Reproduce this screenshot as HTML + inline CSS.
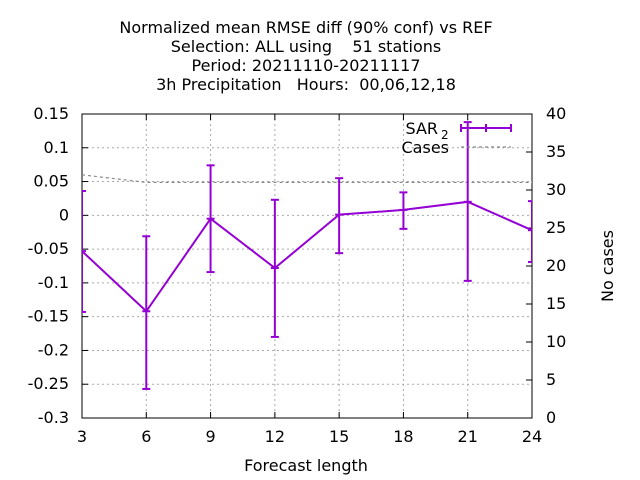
<!DOCTYPE html>
<html><head><meta charset="utf-8"><style>
body{margin:0;background:#fff;}
svg{display:block;font-family:"DejaVu Sans","Liberation Sans",sans-serif;}
text{white-space:pre;}
</style></head><body>
<svg id="chart" width="640" height="480" viewBox="0 0 640 480">
<defs><clipPath id="pc"><rect x="82" y="100" width="450" height="330"/></clipPath></defs>
<g font-size="16" text-anchor="middle" fill="#000">
<text x="306" y="33" xml:space="preserve">Normalized mean RMSE diff (90% conf) vs REF</text>
<text x="306" y="52" xml:space="preserve">Selection: ALL using    51 stations</text>
<text x="306" y="71" xml:space="preserve">Period: 20211110-20211117</text>
<text x="306" y="90" xml:space="preserve">3h Precipitation   Hours:  00,06,12,18</text>
</g>
<g id="grid"></g>
<g id="axes"></g>
<g id="series" clip-path="url(#pc)"></g>
<text x="306" y="471" font-size="16" text-anchor="middle">Forecast length</text>
<text transform="translate(613,266) rotate(-90)" font-size="16" text-anchor="middle">No cases</text>
<g font-size="16">
<text x="438" y="134" text-anchor="end">SAR</text>
<text x="441" y="139" font-size="12">2</text>
<g stroke="#9400d3" stroke-width="2">
<line x1="461" y1="128" x2="511" y2="128"/><line x1="461" y1="124" x2="461" y2="132"/><line x1="511" y1="124" x2="511" y2="132"/><line x1="486" y1="124" x2="486" y2="132"/></g>
<text x="449" y="153" text-anchor="end">Cases</text>
<line x1="461" y1="147" x2="511" y2="147" stroke="#888" stroke-width="1.2" stroke-dasharray="3,3"/>
</g>
</svg>
<script>
const hours=[3,6,9,12,15,18,21,24];
const meanDiff=[-0.053,-0.142,-0.005,-0.078,0.001,0.008,0.020,-0.022];
const ciLow=[-0.143,-0.257,-0.084,-0.180,-0.056,-0.020,-0.097,-0.069];
const ciHigh=[0.036,-0.031,0.074,0.023,0.055,0.034,0.138,0.021];
const cases=[32,31,31,31,31,31,31,31];
const yTicks=[0.15,0.1,0.05,0,-0.05,-0.1,-0.15,-0.2,-0.25,-0.3];
const yTickLabels=["0.15","0.1","0.05","0","-0.05","-0.1","-0.15","-0.2","-0.25","-0.3"];
const y2Ticks=[0,5,10,15,20,25,30,35,40];
const xTicks=[3,6,9,12,15,18,21,24];

const L=82,R=532,T=114,B=418,NS="http://www.w3.org/2000/svg";
const sx=h=>L+(h-3)/(24-3)*(R-L);
const sy=v=>T+(0.15-v)/0.45*(B-T);
const sy2=c=>B-c/40*(B-T);
function mk(tag,attrs,parent,txt){const e=document.createElementNS(NS,tag);for(const k in attrs)e.setAttribute(k,attrs[k]);if(txt!==undefined)e.textContent=txt;parent.appendChild(e);return e;}
const grid=document.getElementById('grid'),axes=document.getElementById('axes'),ser=document.getElementById('series');
yTicks.forEach((v,i)=>{const y=sy(v);
 if(i>0&&i<yTicks.length-1){const g=mk('line',{x1:L,x2:R,y1:y,y2:y,stroke:'#aaa','stroke-dasharray':'2,3','stroke-width':1},grid);
 }
 mk('line',{x1:L,x2:L+6,y1:y,y2:y,stroke:'#000'},axes);
 const t=mk('text',{x:L-13,y:y+5,'font-size':16,'text-anchor':'end'},axes,yTickLabels[i]);
 });
y2Ticks.forEach(c=>{const y=sy2(c);
 mk('line',{x1:R-6,x2:R,y1:y,y2:y,stroke:'#000'},axes);
 const t=mk('text',{x:R+14,y:y+5,'font-size':16},axes,String(c));
 });
xTicks.forEach((h,i)=>{const x=sx(h);
 if(i>0&&i<xTicks.length-1){const g=mk('line',{x1:x,x2:x,y1:T,y2:B,stroke:'#aaa','stroke-dasharray':'2,3','stroke-width':1},grid);
 }
 mk('line',{x1:x,x2:x,y1:B,y2:B-6,stroke:'#000'},axes);mk('line',{x1:x,x2:x,y1:T,y2:T+6,stroke:'#000'},axes);
 const t=mk('text',{x:x,y:B+24,'font-size':16,'text-anchor':'middle'},axes,String(h));
 });
const fr=mk('rect',{x:L,y:T,width:R-L,height:B-T,fill:'none',stroke:'#000','stroke-width':1},axes);

const cl=mk('polyline',{points:hours.map((h,i)=>sx(h)+','+sy2(cases[i])).join(' '),fill:'none',stroke:'#888','stroke-width':1.2,'stroke-dasharray':'3,3'},ser);

const ml=mk('polyline',{points:hours.map((h,i)=>sx(h)+','+sy(meanDiff[i])).join(' '),fill:'none',stroke:'#9400d3','stroke-width':2},ser);

hours.forEach((h,i)=>{const x=sx(h),g=mk('g',{stroke:'#9400d3','stroke-width':2},ser);
 
 mk('line',{x1:x,x2:x,y1:sy(ciLow[i]),y2:sy(ciHigh[i])},g);
 mk('line',{x1:x-4,x2:x+4,y1:sy(ciLow[i]),y2:sy(ciLow[i])},g);
 mk('line',{x1:x-4,x2:x+4,y1:sy(ciHigh[i]),y2:sy(ciHigh[i])},g);
 mk('line',{x1:x-4,x2:x+4,y1:sy(meanDiff[i]),y2:sy(meanDiff[i])},g);});
</script>
</body></html>
